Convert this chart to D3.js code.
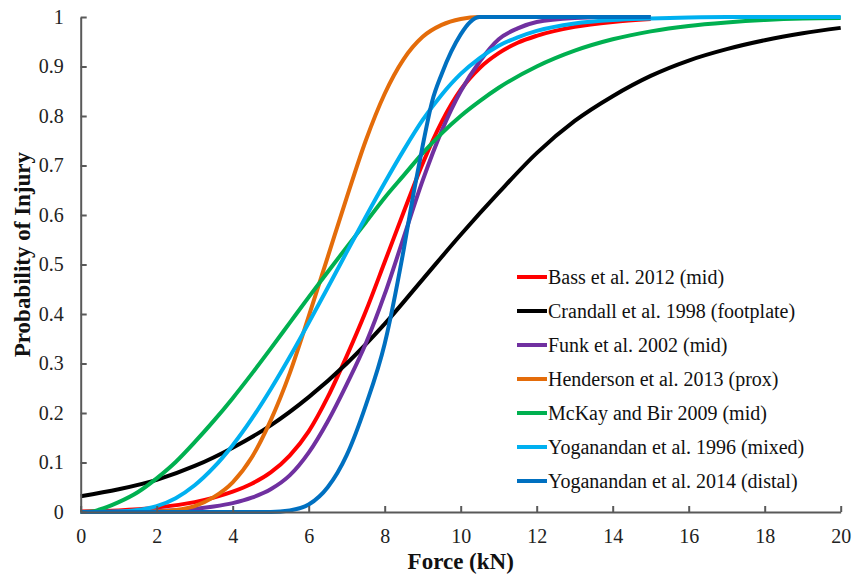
<!DOCTYPE html>
<html>
<head>
<meta charset="utf-8">
<script src="https://cdn.jsdelivr.net/npm/d3@7/dist/d3.min.js"></script>
<style>
  body { margin: 0; background: #ffffff; }
  svg { display: block; }
</style>
</head>
<body>
<svg id="chart" width="854" height="575"></svg>
<script>
// Axis ticks
const xTicks = [0, 2, 4, 6, 8, 10, 12, 14, 16, 18, 20];
const xTickLabels = ["0", "2", "4", "6", "8", "10", "12", "14", "16", "18", "20"];
const yTicks = [0, 0.1, 0.2, 0.3, 0.4, 0.5, 0.6, 0.7, 0.8, 0.9, 1];
const yTickLabels = ["0", "0.1", "0.2", "0.3", "0.4", "0.5", "0.6", "0.7", "0.8", "0.9", "1"];

// Injury risk curves: [force (kN), probability]
const bass2012 = [[0,0.001],[1,0.003],[2,0.009],[3,0.02],[3.5,0.029],[4,0.041],[4.5,0.057],[5,0.08],[5.5,0.114],[6,0.163],[6.5,0.232],[7,0.315],[7.5,0.405],[8,0.505],[8.5,0.606],[9,0.704],[9.5,0.788],[10,0.853],[10.5,0.897],[11,0.927],[11.5,0.948],[12,0.962],[13,0.98],[14,0.99],[15,0.996]];
const crandall1998 = [[0,0.032],[1,0.046],[2,0.065],[3,0.093],[4,0.13],[5,0.175],[6,0.232],[7,0.3],[8,0.38],[9,0.47],[10,0.56],[11,0.645],[12,0.725],[13,0.79],[14,0.84],[15,0.881],[16,0.912],[17,0.935],[18,0.953],[19,0.967],[20,0.978]];
const funk2002 = [[0,0],[1,0.001],[2,0.002],[3,0.006],[3.5,0.011],[4,0.018],[4.5,0.029],[5,0.046],[5.5,0.074],[6,0.12],[6.5,0.183],[7,0.258],[7.5,0.34],[8,0.44],[8.5,0.555],[9,0.67],[9.5,0.77],[10,0.85],[10.5,0.91],[11,0.955],[11.5,0.977],[12,0.99],[13,0.998],[14,1],[15,1]];
const henderson2013 = [[0,0],[1,0],[2,0.001],[2.5,0.004],[3,0.012],[3.5,0.03],[4,0.06],[4.5,0.11],[5,0.185],[5.5,0.28],[6,0.395],[6.5,0.515],[7,0.635],[7.5,0.75],[8,0.845],[8.5,0.915],[9,0.96],[9.5,0.984],[10,0.996],[10.5,1],[11,1],[15,1]];
const mckay2009 = [[0,0],[0.3,0.001],[0.5,0.005],[1,0.02],[1.5,0.04],[2,0.068],[2.5,0.101],[3,0.141],[3.5,0.184],[4,0.23],[4.5,0.279],[5,0.33],[5.5,0.382],[6,0.434],[6.5,0.485],[7,0.535],[7.5,0.585],[8,0.635],[8.5,0.68],[9,0.725],[9.5,0.765],[10,0.8],[10.5,0.83],[11,0.857],[12,0.9],[13,0.932],[14,0.955],[15,0.971],[16,0.982],[17,0.989],[18,0.994],[19,0.997],[20,0.998]];
const yoganandan1996 = [[0,0],[1,0.001],[1.5,0.004],[2,0.012],[2.5,0.028],[3,0.054],[3.5,0.09],[4,0.135],[4.5,0.188],[5,0.248],[5.5,0.313],[6,0.382],[6.5,0.453],[7,0.525],[7.5,0.596],[8,0.665],[8.5,0.731],[9,0.792],[9.5,0.843],[10,0.885],[10.5,0.917],[11,0.942],[11.5,0.959],[12,0.972],[13,0.987],[14,0.994],[15,0.997],[16,0.999],[17,1],[18,1],[19,1],[20,1]];
const yoganandan2014 = [[0,0],[5,0],[5.5,0.003],[6,0.015],[6.5,0.05],[7,0.115],[7.5,0.215],[8,0.34],[8.5,0.53],[8.75,0.64],[9,0.74],[9.25,0.83],[9.5,0.885],[9.75,0.93],[10,0.965],[10.25,0.99],[10.5,1],[15,1]];

const seriesNames = [
  "Bass et al. 2012 (mid)",
  "Crandall et al. 1998 (footplate)",
  "Funk et al. 2002 (mid)",
  "Henderson et al. 2013 (prox)",
  "McKay and Bir 2009 (mid)",
  "Yoganandan et al. 1996 (mixed)",
  "Yoganandan et al. 2014 (distal)"
];
const seriesData = [bass2012, crandall1998, funk2002, henderson2013, mckay2009, yoganandan1996, yoganandan2014];
const seriesColors = ["#ff0000", "#000000", "#7030a0", "#e46c0a", "#00b050", "#00b0f0", "#0070c0"];

const svg = d3.select("#chart");
const FONT = "'Liberation Serif', 'Times New Roman', serif";
const AXIS_COLOR = "#595959";

const x = d3.scaleLinear().domain([0, 20]).range([80.7, 840.7]);
const y = d3.scaleLinear().domain([0, 1]).range([512, 17]);

// Curves (later series drawn on top)
const line = d3.line()
  .x(d => x(d[0]))
  .y(d => y(d[1]))
  .curve(d3.curveMonotoneX);

svg.append("g")
  .selectAll("path")
  .data(seriesData)
  .join("path")
  .attr("d", d => line(d))
  .attr("fill", "none")
  .attr("stroke", (d, i) => seriesColors[i])
  .attr("stroke-width", 4)
  .attr("stroke-linejoin", "round");

// Axes with inward ticks
const xAxis = d3.axisBottom(x)
  .tickValues(xTicks)
  .tickFormat((d, i) => xTickLabels[i])
  .tickSizeInner(-6)
  .tickSizeOuter(0)
  .tickPadding(17);

const yAxis = d3.axisLeft(y)
  .tickValues(yTicks)
  .tickFormat((d, i) => yTickLabels[i])
  .tickSizeInner(-6)
  .tickSizeOuter(0)
  .tickPadding(17);

const gx = svg.append("g").attr("transform", `translate(0,${y(0)})`).call(xAxis);
const gy = svg.append("g").attr("transform", `translate(${x(0)},0)`).call(yAxis);

[gx, gy].forEach(g => {
  g.select(".domain").attr("stroke", AXIS_COLOR).attr("stroke-width", 2);
  g.selectAll(".tick line").attr("stroke", AXIS_COLOR).attr("stroke-width", 2);
  g.selectAll(".tick text")
    .attr("fill", "#222")
    .style("font-family", FONT)
    .style("font-size", "20px");
});

// Axis titles
svg.append("text")
  .attr("x", x(10))
  .attr("y", 569)
  .attr("text-anchor", "middle")
  .style("font-family", FONT)
  .style("font-size", "23px")
  .style("font-weight", "bold")
  .attr("fill", "#111")
  .text("Force (kN)");

svg.append("text")
  .attr("transform", `translate(30,${y(0.52)}) rotate(-90)`)
  .attr("text-anchor", "middle")
  .style("font-family", FONT)
  .style("font-size", "23px")
  .style("font-weight", "bold")
  .attr("fill", "#111")
  .text("Probability of Injury");

// Legend
const legend = svg.append("g").attr("transform", "translate(517,277)");
const items = legend.selectAll("g")
  .data(seriesNames)
  .join("g")
  .attr("transform", (d, i) => `translate(0,${i * 34})`);

items.append("line")
  .attr("x1", 0).attr("x2", 30)
  .attr("y1", 0).attr("y2", 0)
  .attr("stroke", (d, i) => seriesColors[i])
  .attr("stroke-width", 4);

items.append("text")
  .attr("x", 31)
  .attr("y", 0)
  .attr("dy", "0.33em")
  .style("font-family", FONT)
  .style("font-size", "20px")
  .attr("fill", "#111")
  .text(d => d);
</script>
</body>
</html>
